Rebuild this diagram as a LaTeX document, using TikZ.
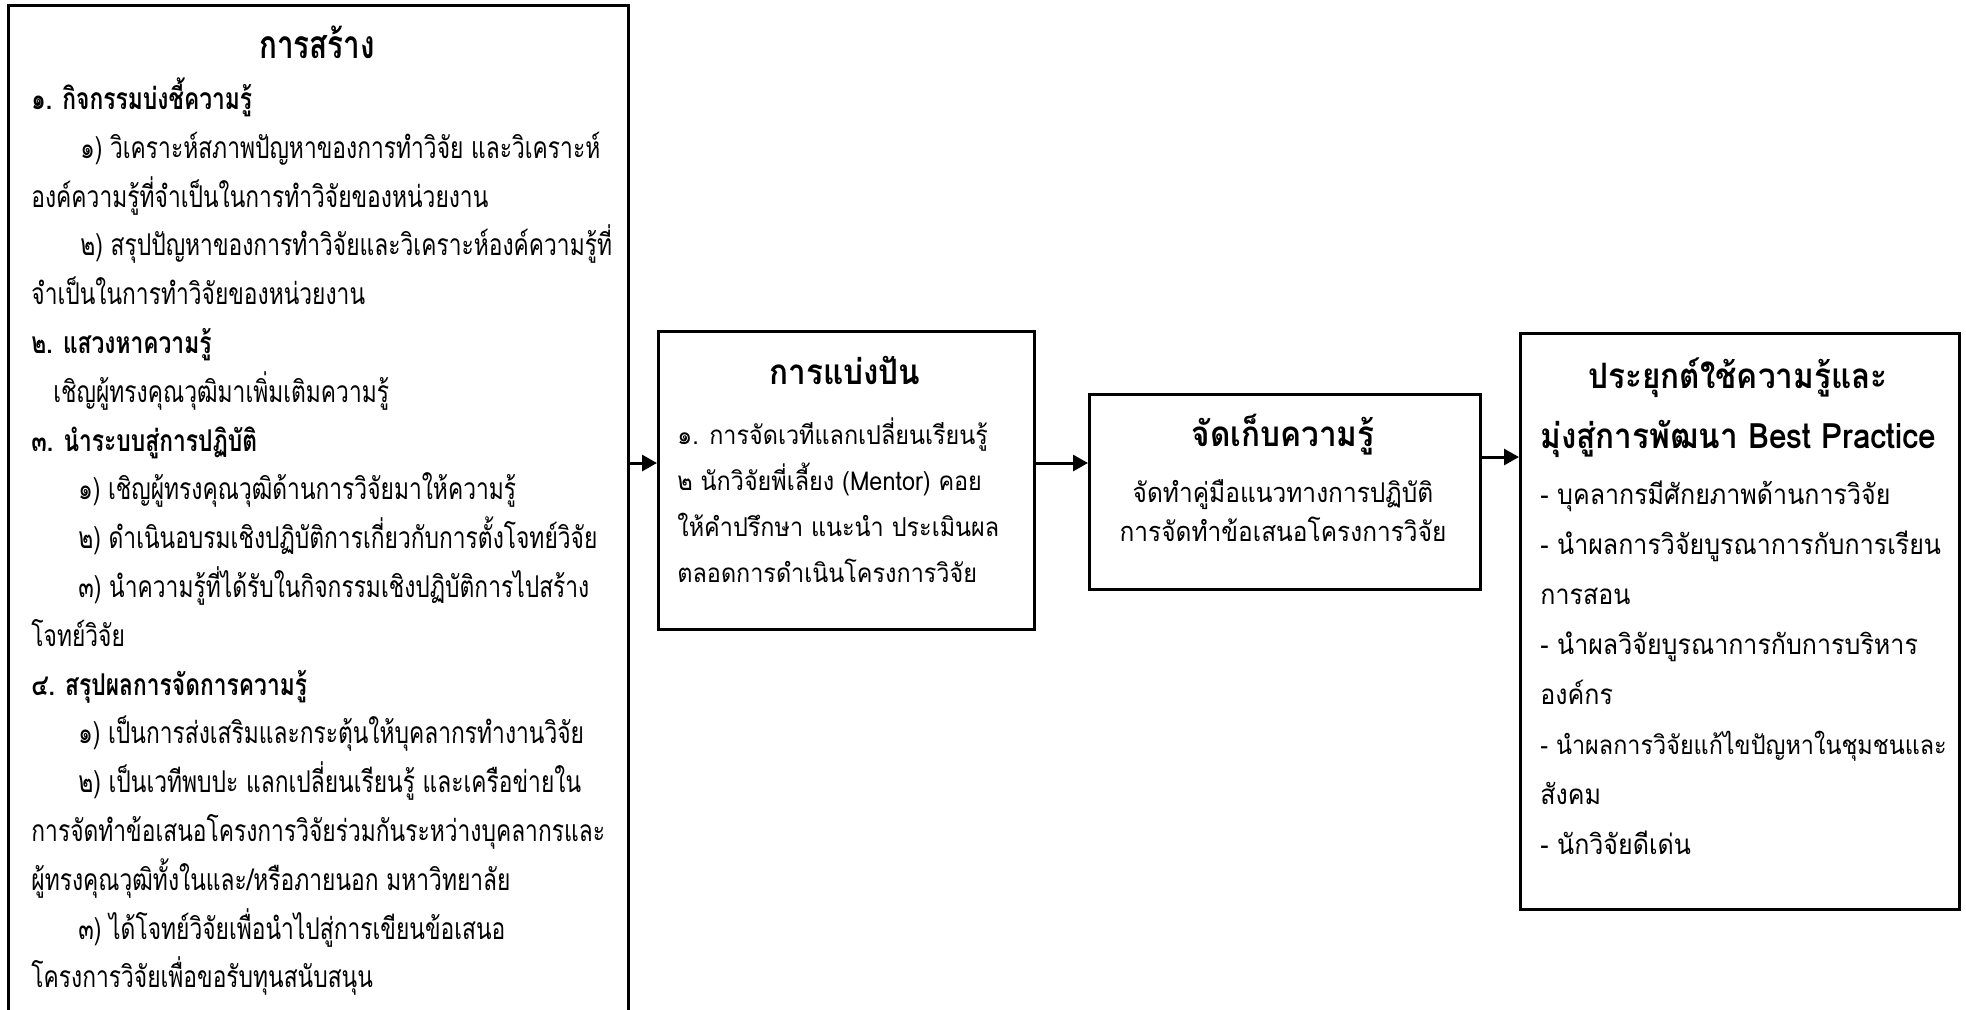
\documentclass[tikz,border=0pt]{standalone}
\usepackage{fontspec}
\newfontfamily\thai[Script=Thai,FakeStretch=0.9]{Loma}
\newfontfamily\thainarrow[Script=Thai,FakeStretch=0.76]{Loma}
\usetikzlibrary{arrows.meta, positioning}

\newcommand{\lbody}{\thainarrow\fontsize{15}{18}\selectfont}
\newcommand{\lhead}{\thainarrow\bfseries\fontsize{15}{18}\selectfont}
\newcommand{\sbody}{\thai\fontsize{13}{16}\selectfont}
\newcommand{\kbody}{\thai\fontsize{13.6}{16}\selectfont}
\newcommand{\abody}{\thai\fontsize{13.9}{17}\selectfont}
\newcommand{\rhead}{\thai\bfseries\fontsize{17.5}{20}\selectfont}

\tikzset{
  box/.style={draw, line width=1.3pt, anchor=north west, inner sep=0pt},
  flow/.style={line width=1.5pt, -{Triangle[length=7.5pt,width=8pt]}},
  ltxt/.style={anchor=base west, inner sep=0pt, font=\lbody},
  lhd/.style={anchor=base west, inner sep=0pt, font=\lhead},
  stxt/.style={anchor=base west, inner sep=0pt, font=\sbody},
  ktxt/.style={anchor=base, inner sep=0pt, font=\kbody},
  atxt/.style={anchor=base west, inner sep=0pt, font=\abody},
  rhd/.style={anchor=base, inner sep=0pt, font=\rhead},
}

\begin{document}
\begin{tikzpicture}[x=0.5pt, y=-0.5pt]
    \useasboundingbox (0,0) rectangle (1966,1009);

    % กรอบ
    \node[box, minimum width=310pt, minimum height=530pt] (build) at (7,4) {};
    \node[box, minimum width=188pt, minimum height=149pt] (share) at (657,330) {};
    \node[box, minimum width=195.5pt, minimum height=97.5pt] (store) at (1088,393) {};
    \node[box, minimum width=219.5pt, minimum height=288pt] (apply) at (1519,332) {};

    % ลูกศร
    \coordinate (lvl) at (0,463);
    \coordinate (lvlb) at (0,457);
    \draw[flow] (build.east |- lvl) -- (share.west |- lvl);
    \draw[flow] (share.east |- lvl) -- (store.west |- lvl);
    \draw[flow] (store.east |- lvlb) -- (apply.west |- lvlb);

    % การสร้าง
    \node[anchor=base, inner sep=0pt, font=\thainarrow\bfseries\fontsize{19.5}{22}\selectfont] (bt) at (317,58) {การสร้าง};
    \node[lhd] (b1) at (31,109) {๑. กิจกรรมบ่งชี้ความรู้};
    \node[ltxt] (b2) at (80,158) {๑) วิเคราะห์สภาพปัญหาของการทำวิจัย และวิเคราะห์};
    \node[ltxt] (b3) at (31,207) {องค์ความรู้ที่จำเป็นในการทำวิจัยของหน่วยงาน};
    \node[ltxt] (b4) at (80,255) {๒) สรุปปัญหาของการทำวิจัยและวิเคราะห์องค์ความรู้ที่};
    \node[ltxt] (b5) at (31,304) {จำเป็นในการทำวิจัยของหน่วยงาน};
    \node[lhd] (b6) at (31,353) {๒. แสวงหาความรู้};
    \node[ltxt] (b7) at (53,402) {เชิญผู้ทรงคุณวุฒิมาเพิ่มเติมความรู้};
    \node[lhd] (b8) at (31,451) {๓. นำระบบสู่การปฏิบัติ};
    \node[ltxt] (b9) at (78,499) {๑) เชิญผู้ทรงคุณวุฒิด้านการวิจัยมาให้ความรู้};
    \node[ltxt] (b10) at (78,548) {๒) ดำเนินอบรมเชิงปฏิบัติการเกี่ยวกับการตั้งโจทย์วิจัย};
    \node[ltxt] (b11) at (78,597) {๓) นำความรู้ที่ได้รับในกิจกรรมเชิงปฏิบัติการไปสร้าง};
    \node[ltxt] (b12) at (31,646) {โจทย์วิจัย};
    \node[lhd] (b13) at (31,695) {๔. สรุปผลการจัดการความรู้};
    \node[ltxt] (b14) at (78,743) {๑) เป็นการส่งเสริมและกระตุ้นให้บุคลากรทำงานวิจัย};
    \node[ltxt] (b15) at (78,792) {๒) เป็นเวทีพบปะ แลกเปลี่ยนเรียนรู้ และเครือข่ายใน};
    \node[ltxt] (b16) at (31,841) {การจัดทำข้อเสนอโครงการวิจัยร่วมกันระหว่างบุคลากรและ};
    \node[ltxt] (b17) at (31,890) {ผู้ทรงคุณวุฒิทั้งในและ/หรือภายนอก มหาวิทยาลัย};
    \node[ltxt] (b18) at (78,939) {๓) ได้โจทย์วิจัยเพื่อนำไปสู่การเขียนข้อเสนอ};
    \node[ltxt] (b19) at (31,987) {โครงการวิจัยเพื่อขอรับทุนสนับสนุน};

    % การแบ่งปัน
    \node[rhd] (st) at (845,384) {การแบ่งปัน};
    \node[stxt] (s1) at (677,444) {๑. การจัดเวทีแลกเปลี่ยนเรียนรู้};
    \node[stxt] (s2) at (677,490) {๒ นักวิจัยพี่เลี้ยง (Mentor) คอย};
    \node[stxt] (s3) at (677,536) {ให้คำปรึกษา แนะนำ ประเมินผล};
    \node[stxt] (s4) at (677,582) {ตลอดการดำเนินโครงการวิจัย};

    % จัดเก็บความรู้
    \node[rhd] (kt) at (1283,446) {จัดเก็บความรู้};
    \node[ktxt] (k1) at (1283,502) {จัดทำคู่มือแนวทางการปฏิบัติ};
    \node[ktxt] (k2) at (1283,541) {การจัดทำข้อเสนอโครงการวิจัย};

    % ประยุกต์ใช้
    \node[rhd] (at1) at (1738,388) {ประยุกต์ใช้ความรู้และ};
    \node[rhd] (at2) at (1738,448) {มุ่งสู่การพัฒนา Best Practice};
    \node[atxt] (a1) at (1540,504) {- บุคลากรมีศักยภาพด้านการวิจัย};
    \node[atxt] (a2) at (1540,554) {- นำผลการวิจัยบูรณาการกับการเรียน};
    \node[atxt] (a3) at (1540,604) {การสอน};
    \node[atxt] (a4) at (1540,654) {- นำผลวิจัยบูรณาการกับการบริหาร};
    \node[atxt] (a5) at (1540,704) {องค์กร};
    \node[atxt, font=\thai\fontsize{13}{16}\selectfont] (a6) at (1540,754) {- นำผลการวิจัยแก้ไขปัญหาในชุมชนและ};
    \node[atxt] (a7) at (1540,804) {สังคม};
    \node[atxt] (a8) at (1540,854) {- นักวิจัยดีเด่น};
\end{tikzpicture}
\end{document}
